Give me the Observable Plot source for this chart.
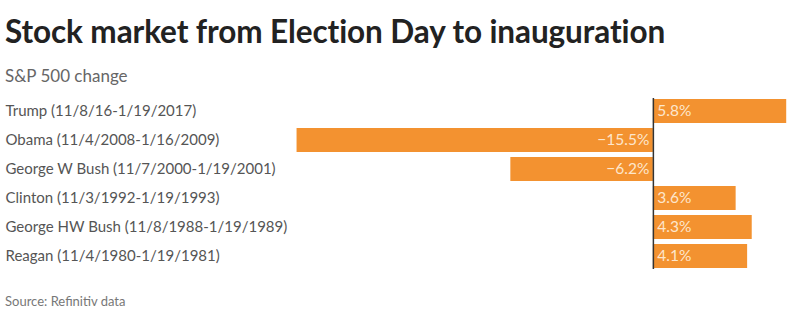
<!DOCTYPE html>
<html>
<head>
<meta charset="utf-8">
<script src="https://cdn.jsdelivr.net/npm/d3@7"></script>
<script src="https://cdn.jsdelivr.net/npm/@observablehq/plot@0.6"></script>
<style>
  html, body { margin: 0; padding: 0; background: #fff; }
  body { width: 800px; height: 332px; overflow: hidden; font-family: Lato, "Noto Sans", sans-serif; }
  #title { position: absolute; left: 5px; top: 12px; font-size: 31.5px; font-weight: 700; color: #222; letter-spacing: -0.1px; }
  #subtitle { position: absolute; left: 5px; top: 65px; font-size: 17px; color: #666; }
  #chart { position: absolute; left: 0; top: 93px; }
  #caption { position: absolute; left: 5px; top: 293px; font-size: 13px; color: #777; }
</style>
</head>
<body>
<div id="title">Stock market from Election Day to inauguration</div>
<div id="subtitle">S&amp;P 500 change</div>
<div id="chart"></div>
<div id="caption">Source: Refinitiv data</div>
<script>
const presidents = [
  "Trump (11/8/16-1/19/2017)",
  "Obama (11/4/2008-1/16/2009)",
  "George W Bush (11/7/2000-1/19/2001)",
  "Clinton (11/3/1992-1/19/1993)",
  "George HW Bush (11/8/1988-1/19/1989)",
  "Reagan (11/4/1980-1/19/1981)"
];
const changes = [5.8, -15.5, -6.2, 3.6, 4.3, 4.1];
const valueLabels = ["5.8%", "\u221215.5%", "\u22126.2%", "3.6%", "4.3%", "4.1%"];

const data = presidents.map((name, i) => ({name, change: changes[i], label: valueLabels[i]}));
const pos = data.filter(d => d.change >= 0);
const neg = data.filter(d => d.change < 0);

const chart = Plot.plot({
  width: 800,
  height: 181,
  marginLeft: 0,
  marginRight: 0,
  marginTop: 0,
  marginBottom: 0,
  style: {fontFamily: "Lato, 'Noto Sans', sans-serif", background: "transparent"},
  x: {domain: [-28.4, 6.4], axis: null},
  y: {domain: presidents, padding: 0.18, axis: null},
  marks: [
    Plot.barX(data, {x: "change", y: "name", fill: "#f39230"}),
    Plot.ruleX([0], {stroke: "#333", strokeWidth: 1.5, insetTop: 5, insetBottom: 5}),
    Plot.text(data, {y: "name", text: "name", frameAnchor: "left", textAnchor: "start", dx: 5, fontSize: 15, fill: "#555"}),
    Plot.text(pos, {x: 0, y: "name", text: "label", textAnchor: "start", dx: 4, fontSize: 15.5, fill: "#fde6cc"}),
    Plot.text(neg, {x: 0, y: "name", text: "label", textAnchor: "end", dx: -4, fontSize: 15.5, fill: "#fde6cc"})
  ]
});
document.getElementById("chart").appendChild(chart);
</script>
</body>
</html>
